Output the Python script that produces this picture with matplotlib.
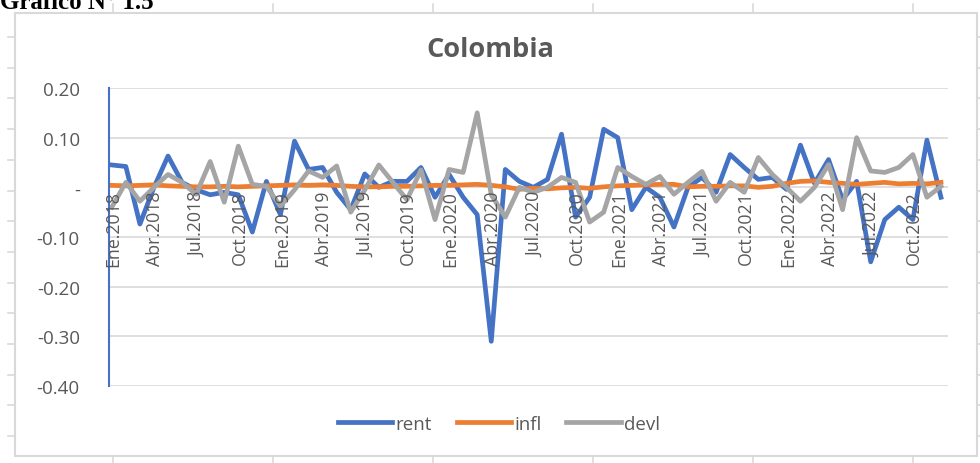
import numpy as np
import matplotlib
matplotlib.use("Agg")
import matplotlib.pyplot as plt
from matplotlib.lines import Line2D
from matplotlib import transforms

plt.rcParams['font.family'] = ['Open Sans', 'DejaVu Sans']

# Data (monthly, Ene.2018 - Dic.2022)
MONTHS = ["Ene", "Feb", "Mar", "Abr", "May", "Jun",
          "Jul", "Ago", "Sep", "Oct", "Nov", "Dic"]
YEARS = [2018, 2019, 2020, 2021, 2022]
labels = [f"{m}.{y}" for y in YEARS for m in MONTHS]

rent = [0.045, 0.042, -0.074, 0.000, 0.063, 0.010, -0.005, -0.015, -0.010, -0.015, -0.090, 0.012,
        -0.055, 0.093, 0.036, 0.040, -0.010, -0.045, 0.027, 0.000, 0.012, 0.012, 0.040, -0.020,
        0.026, -0.020, -0.055, -0.310, 0.036, 0.012, 0.000, 0.016, 0.107, -0.060, -0.020, 0.117,
        0.100, -0.045, 0.000, -0.020, -0.080, 0.000, 0.020, -0.010, 0.066, 0.040, 0.016, 0.020,
        -0.004, 0.085, 0.008, 0.056, -0.025, 0.012, -0.150, -0.065, -0.040, -0.065, 0.095, -0.020]

infl = [0.004, 0.003, 0.004, 0.005, 0.003, 0.002, 0.001, 0.001, 0.002, 0.001, 0.002, 0.003,
        0.004, 0.005, 0.004, 0.005, 0.004, 0.002, 0.001, 0.001, 0.002, 0.002, 0.003, 0.004,
        0.004, 0.005, 0.006, 0.004, 0.001, -0.004, -0.002, -0.003, -0.001, 0.000, -0.002, 0.001,
        0.003, 0.004, 0.005, 0.006, 0.006, 0.001, 0.002, 0.002, 0.003, 0.003, 0.000, 0.002,
        0.008, 0.012, 0.013, 0.010, 0.008, 0.006, 0.008, 0.010, 0.007, 0.008, 0.007, 0.010]

devl = [-0.040, 0.010, -0.028, 0.000, 0.026, 0.010, -0.014, 0.052, -0.030, 0.083, 0.006, 0.002,
        -0.038, -0.005, 0.033, 0.020, 0.043, -0.050, -0.005, 0.045, 0.010, -0.025, 0.035, -0.065,
        0.036, 0.030, 0.150, -0.015, -0.060, 0.000, -0.010, 0.000, 0.020, 0.010, -0.070, -0.050,
        0.040, 0.022, 0.006, 0.022, -0.014, 0.010, 0.032, -0.028, 0.010, -0.010, 0.060, 0.026,
        0.000, -0.028, 0.000, 0.046, -0.045, 0.100, 0.033, 0.030, 0.040, 0.066, -0.020, 0.002]

y_ticks = [0.20, 0.10, 0.0, -0.10, -0.20, -0.30, -0.40]
y_labels = ["0.20", "0.10", "-", "-0.10", "-0.20", "-0.30", "-0.40"]

BLUE = "#4472C4"
ORANGE = "#ED7D31"
GRAY = "#A5A5A5"
TEXT = "#595959"
GRID = "#D9D9D9"

W, H = 980, 464
fig = plt.figure(figsize=(W / 100, H / 100), dpi=100)

# page decorations: chart border and ruler ticks
fig.patches.append(plt.Rectangle((15 / W, 1 - 457 / H), 962 / W, 443 / H, transform=fig.transFigure,
                                  fill=False, edgecolor=GRID, lw=1.5))
for yp in np.arange(38, 450, 30.7):
    fig.add_artist(Line2D([8 / W, 15 / W], [1 - yp / H] * 2, color=GRID, lw=1.2))
    fig.add_artist(Line2D([977 / W, 980 / W], [1 - yp / H] * 2, color=GRID, lw=1.2))
for xp in [113, 273, 433, 593, 753, 913]:
    fig.add_artist(Line2D([xp / W] * 2, [1 - 5 / H, 1 - 14 / H], color=GRID, lw=1.2))
    fig.add_artist(Line2D([xp / W] * 2, [0, 1 - 457 / H], color=GRID, lw=1.2))

# heading of the page, cut at the top as in the source screenshot
fig.text(0.0, 1 - 9 / H, "Gráfico N° 1.5", fontsize=18, weight="bold",
         family="Liberation Serif", va="baseline", ha="left", color="black")

ax = fig.add_axes([109 / W, 1 - 387 / H, 839 / W, 298 / H])
x = np.arange(len(labels))

ax.plot(x, rent, color=BLUE, lw=3.4, label="rent", solid_joinstyle="round")
ax.plot(x, infl, color=ORANGE, lw=3.4, label="infl", solid_joinstyle="round")
ax.plot(x, devl, color=GRAY, lw=3.4, label="devl", solid_joinstyle="round")

ax.set_xlim(-0.2, 59.5)
ax.set_ylim(-0.40, 0.20)
ax.set_yticks(y_ticks)
ax.set_yticklabels(y_labels, fontsize=13.5, color=TEXT)
ax.tick_params(axis="y", length=0, pad=21)
ax.set_xticks([])
ax.grid(axis="y", color=GRID, lw=1.2)
ax.set_axisbelow(True)
for s in ["top", "right", "bottom"]:
    ax.spines[s].set_visible(False)
ax.spines["left"].set_color(BLUE)
ax.spines["left"].set_linewidth(1.5)

# category labels at the zero line
off = transforms.offset_copy(ax.transData, fig=fig, x=0, y=-3, units="dots")
for i in range(0, len(labels), 3):
    ax.text(i + 0.1, 0, labels[i], rotation=90, ha="center", va="top",
            fontsize=12.8, color=TEXT, transform=off)

fig.text(490 / W, 1 - 50 / H, "Colombia", fontsize=19.5, weight="bold", color=TEXT,
         ha="center", va="center")

fig.legend(loc="center", bbox_to_anchor=(499 / W, 1 - 425 / H), ncol=3, frameon=False,
           fontsize=13.5, labelcolor=TEXT, handlelength=2.9, handletextpad=0.2, columnspacing=1.3)

fig.savefig("out.png", dpi=100)
